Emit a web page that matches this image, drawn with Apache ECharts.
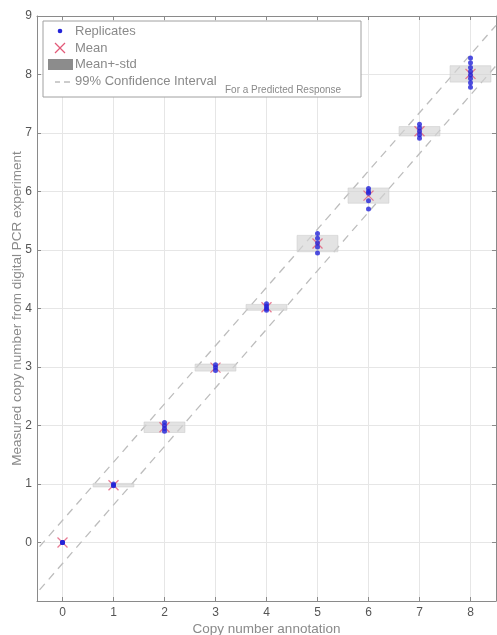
<!DOCTYPE html>
<html>
<head>
<meta charset="utf-8">
<script src="https://cdn.jsdelivr.net/npm/echarts@6/dist/echarts.min.js"></script>
<style>html,body{margin:0;padding:0;background:#fff;}#c{width:497px;height:635px;}</style>
</head>
<body>
<div id="c"></div>
<script>
// ---- data ----
var annotations = [0, 1, 2, 3, 4, 5, 6, 7, 8];
var replicates = [
  [0.0, 0.0, 0.0],
  [1.0, 0.98, 0.97],
  [2.05, 2.0, 1.95, 1.9],
  [3.04, 2.99, 2.94],
  [4.08, 4.04, 4.0, 3.97],
  [5.28, 5.2, 5.12, 5.05, 4.95],
  [6.05, 6.0, 5.97, 5.84, 5.7],
  [7.15, 7.09, 7.03, 6.97, 6.91],
  [8.28, 8.2, 8.12, 8.05, 7.99, 7.93, 7.86, 7.78]
];
var means = [0.0, 0.98, 1.97, 2.99, 4.02, 5.11, 5.93, 7.03, 8.01];
var stds  = [0.0, 0.03, 0.09, 0.06, 0.05, 0.14, 0.13, 0.08, 0.14];
var ciX     = [-0.45, 8.5];
var ciUpper = [-0.07, 8.84];
var ciLower = [-0.81, 8.15];
var xTicks = [0, 1, 2, 3, 4, 5, 6, 7, 8];

var repData = [];
annotations.forEach(function (a, i) {
  replicates[i].forEach(function (v) { repData.push([a, v]); });
});
var meanData = annotations.map(function (a, i) { return [a, means[i]]; });
var boxData = annotations.map(function (a, i) { return [a, means[i], stds[i]]; });
var upperData = ciX.map(function (x, i) { return [x, ciUpper[i]]; });
var lowerData = ciX.map(function (x, i) { return [x, ciLower[i]]; });

var X_PATH = 'path://M0,0L10,10M10,0L0,10';
var FONT = 'Liberation Sans, Arial, Helvetica, sans-serif';

var chart = echarts.init(document.getElementById('c'), null, {renderer: 'canvas'});
var axisLineStyle = {color: '#8a8a8a', width: 1};
var option = {
  animation: false,
  backgroundColor: '#fff',
  grid: {left: 37, right: 1, top: 16, bottom: 34, containLabel: false, outerBoundsMode: 'none'},
  xAxis: [{
    type: 'value', min: -0.5, max: 8.5, position: 'bottom',
    axisLine: {show: true, onZero: false, lineStyle: axisLineStyle},
    axisTick: {show: true, inside: true, length: 4, lineStyle: {color: '#8a8a8a'}, customValues: xTicks},
    axisLabel: {customValues: xTicks, color: '#555', fontSize: 12, fontFamily: FONT, margin: 6},
    splitLine: {show: true, lineStyle: {color: '#e6e6e6', width: 1}},
    name: 'Copy number annotation', nameLocation: 'middle', nameGap: 21, nameMoveOverlap: false,
    nameTextStyle: {color: '#8a8a8a', fontSize: 13.5, fontFamily: FONT}
  }, {
    type: 'value', min: -0.5, max: 8.5, position: 'top',
    axisLine: {show: true, onZero: false, lineStyle: axisLineStyle},
    axisTick: {show: true, inside: true, length: 4, lineStyle: {color: '#8a8a8a'}, customValues: xTicks},
    axisLabel: {show: false, customValues: xTicks},
    splitLine: {show: false}
  }],
  yAxis: [{
    type: 'value', min: -1, max: 9, interval: 1, position: 'left',
    axisLine: {show: true, onZero: false, lineStyle: axisLineStyle},
    axisTick: {show: true, inside: true, length: 4, lineStyle: {color: '#8a8a8a'}},
    axisLabel: {color: '#555', fontSize: 12, fontFamily: FONT, margin: 5,
      formatter: function (v) { return v < 0 ? '' : String(v); }},
    splitLine: {show: true, lineStyle: {color: '#e6e6e6', width: 1}},
    name: 'Measured copy number from digital PCR experiment', nameLocation: 'middle', nameGap: 13, nameMoveOverlap: false,
    nameTextStyle: {color: '#8a8a8a', fontSize: 13.5, fontFamily: FONT}
  }, {
    type: 'value', min: -1, max: 9, interval: 1, position: 'right',
    axisLine: {show: true, onZero: false, lineStyle: axisLineStyle},
    axisTick: {show: true, inside: true, length: 4, lineStyle: {color: '#8a8a8a'}},
    axisLabel: {show: false},
    splitLine: {show: false}
  }],
  series: [{
    type: 'line', data: upperData, showSymbol: false, symbol: 'none', z: 2,
    lineStyle: {color: '#bdbdbd', width: 1.3, type: [8, 6]}
  }, {
    type: 'line', data: lowerData, showSymbol: false, symbol: 'none', z: 2,
    lineStyle: {color: '#bdbdbd', width: 1.3, type: [8, 6]}
  }, {
    type: 'custom', data: boxData, z: 3,
    renderItem: function (params, api) {
      var x = api.value(0), m = api.value(1), s = api.value(2);
      if (s <= 0) { return null; }
      var p1 = api.coord([x - 0.4, m + s]);
      var p2 = api.coord([x + 0.4, m - s]);
      return {
        type: 'rect',
        shape: {x: p1[0], y: p1[1], width: p2[0] - p1[0], height: Math.max(p2[1] - p1[1], 1)},
        style: {fill: 'rgba(212,212,212,0.65)', stroke: 'rgba(205,205,205,0.6)', lineWidth: 1}
      };
    }
  }, {
    type: 'scatter', data: meanData, symbol: X_PATH, symbolSize: 10, z: 4,
    itemStyle: {color: 'none', borderColor: '#e25a78', borderWidth: 1.3}
  }, {
    type: 'scatter', data: repData, symbol: 'circle', symbolSize: 5, z: 5,
    itemStyle: {color: '#2323d8'}
  }],
  graphic: [
    {type: 'rect', shape: {x: 43, y: 21, width: 318, height: 76}, style: {fill: '#fff', stroke: '#a0a0a0', lineWidth: 1}, z: 100},
    {type: 'circle', shape: {cx: 60, cy: 31, r: 2.3}, style: {fill: '#2323d8'}, z: 101},
    {type: 'text', x: 75, y: 31, style: {text: 'Replicates', fill: '#8a8a8a', font: '13px ' + FONT, verticalAlign: 'middle'}, z: 101},
    {type: 'polyline', shape: {points: [[55, 43], [65, 53]]}, style: {stroke: '#e25a78', lineWidth: 1.3}, z: 101},
    {type: 'polyline', shape: {points: [[65, 43], [55, 53]]}, style: {stroke: '#e25a78', lineWidth: 1.3}, z: 101},
    {type: 'text', x: 75, y: 48, style: {text: 'Mean', fill: '#8a8a8a', font: '13px ' + FONT, verticalAlign: 'middle'}, z: 101},
    {type: 'rect', shape: {x: 48, y: 59, width: 25, height: 11}, style: {fill: '#8c8c8c'}, z: 101},
    {type: 'text', x: 75, y: 64, style: {text: 'Mean+-std', fill: '#8a8a8a', font: '13px ' + FONT, verticalAlign: 'middle'}, z: 101},
    {type: 'polyline', shape: {points: [[55, 82], [60, 82]]}, style: {stroke: '#9a9a9a', lineWidth: 1}, z: 101},
    {type: 'polyline', shape: {points: [[64, 82], [70, 82]]}, style: {stroke: '#9a9a9a', lineWidth: 1}, z: 101},
    {type: 'text', x: 75, y: 81, style: {text: '99% Confidence Interval', fill: '#8a8a8a', font: '13px ' + FONT, verticalAlign: 'middle'}, z: 101},
    {type: 'text', x: 225, y: 90, style: {text: 'For a Predicted Response', fill: '#8a8a8a', font: '10px ' + FONT, verticalAlign: 'middle'}, z: 101}
  ]
};
chart.setOption(option);
</script>
</body>
</html>
